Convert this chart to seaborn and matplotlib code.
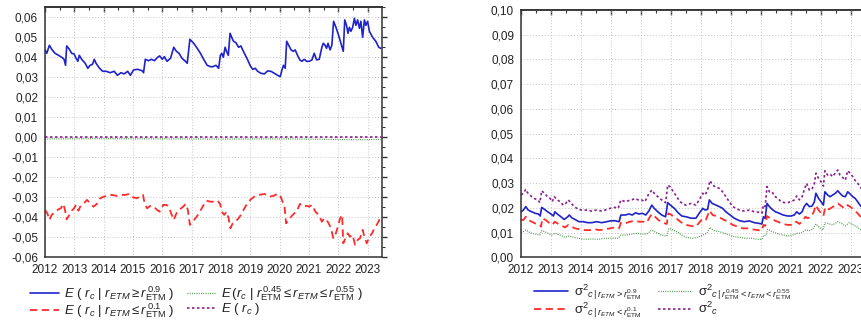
import matplotlib
matplotlib.use("Agg")
import matplotlib.pyplot as plt
import seaborn as sns
from matplotlib.ticker import MultipleLocator, FuncFormatter

# ---------------- left panel: conditional means ----------------
l_blue_t = [2012.00, 2012.06, 2012.15, 2012.23, 2012.34, 2012.46, 2012.57, 2012.65, 2012.70, 2012.74,
            2012.83, 2012.91, 2012.99, 2013.06, 2013.12, 2013.17, 2013.25, 2013.37, 2013.46, 2013.54,
            2013.62, 2013.68, 2013.74, 2013.86, 2013.97, 2014.09, 2014.22, 2014.36, 2014.47, 2014.59,
            2014.70, 2014.82, 2014.91, 2015.02, 2015.16, 2015.31, 2015.36, 2015.42, 2015.53, 2015.63,
            2015.73, 2015.84, 2015.91, 2016.00, 2016.07, 2016.16, 2016.28, 2016.39, 2016.48, 2016.57,
            2016.67, 2016.79, 2016.85, 2016.94, 2017.07, 2017.19, 2017.30, 2017.42, 2017.53, 2017.64,
            2017.72, 2017.83, 2017.92, 2017.98, 2018.03, 2018.08, 2018.14, 2018.19, 2018.25, 2018.31,
            2018.38, 2018.43, 2018.51, 2018.60, 2018.68, 2018.74, 2018.83, 2018.91, 2018.99, 2019.08,
            2019.17, 2019.25, 2019.36, 2019.48, 2019.59, 2019.70, 2019.82, 2019.93, 2020.02, 2020.08,
            2020.13, 2020.19, 2020.24, 2020.31, 2020.39, 2020.47, 2020.53, 2020.61, 2020.69, 2020.76,
            2020.84, 2020.92, 2021.01, 2021.10, 2021.18, 2021.26, 2021.35, 2021.44, 2021.49, 2021.55,
            2021.60, 2021.65, 2021.72, 2021.78, 2021.84, 2021.92, 2022.01, 2022.09, 2022.17, 2022.22,
            2022.28, 2022.33, 2022.38, 2022.43, 2022.49, 2022.55, 2022.60, 2022.66, 2022.72, 2022.77,
            2022.83, 2022.89, 2022.94, 2023.00, 2023.06, 2023.17, 2023.28, 2023.38, 2023.45]
l_blue_v = [0.0437, 0.0420, 0.0460, 0.0440, 0.0420, 0.0410, 0.0400, 0.0390, 0.0360, 0.0457,
            0.0440, 0.0420, 0.0417, 0.0395, 0.0380, 0.0410, 0.0390, 0.0370, 0.0345, 0.0360,
            0.0365, 0.0390, 0.0370, 0.0345, 0.0330, 0.0330, 0.0323, 0.0330, 0.0310, 0.0323,
            0.0317, 0.0330, 0.0310, 0.0337, 0.0340, 0.0333, 0.0323, 0.0390, 0.0383, 0.0390,
            0.0383, 0.0400, 0.0407, 0.0390, 0.0403, 0.0380, 0.0395, 0.0450, 0.0430, 0.0420,
            0.0395, 0.0380, 0.0370, 0.0490, 0.0470, 0.0445, 0.0420, 0.0387, 0.0360, 0.0353,
            0.0353, 0.0360, 0.0345, 0.0410, 0.0420, 0.0400, 0.0450, 0.0430, 0.0410, 0.0520,
            0.0495, 0.0480, 0.0473, 0.0450, 0.0457, 0.0437, 0.0410, 0.0387, 0.0360, 0.0340,
            0.0345, 0.0330, 0.0320, 0.0317, 0.0332, 0.0330, 0.0320, 0.0310, 0.0303, 0.0337,
            0.0360, 0.0345, 0.0480, 0.0460, 0.0437, 0.0430, 0.0437, 0.0410, 0.0387, 0.0380,
            0.0390, 0.0380, 0.0380, 0.0387, 0.0420, 0.0387, 0.0390, 0.0450, 0.0470, 0.0460,
            0.0445, 0.0470, 0.0437, 0.0460, 0.0580, 0.0550, 0.0510, 0.0470, 0.0430, 0.0587,
            0.0560, 0.0520, 0.0550, 0.0530, 0.0550, 0.0595, 0.0560, 0.0587, 0.0545, 0.0580,
            0.0500, 0.0587, 0.0560, 0.0580, 0.0530, 0.0500, 0.0480, 0.0450, 0.0445]

l_red_t = [2012.00, 2012.08, 2012.15, 2012.23, 2012.34, 2012.46, 2012.54, 2012.63, 2012.68, 2012.74,
           2012.83, 2012.91, 2012.99, 2013.06, 2013.14, 2013.20, 2013.31, 2013.43, 2013.54, 2013.65,
           2013.77, 2013.88, 2014.00, 2014.11, 2014.28, 2014.45, 2014.62, 2014.74, 2014.88, 2015.00,
           2015.14, 2015.25, 2015.34, 2015.40, 2015.48, 2015.59, 2015.71, 2015.82, 2015.91, 2016.03,
           2016.14, 2016.22, 2016.30, 2016.39, 2016.48, 2016.60, 2016.71, 2016.80, 2016.87, 2016.94,
           2017.05, 2017.17, 2017.28, 2017.39, 2017.51, 2017.64, 2017.77, 2017.89, 2017.97, 2018.03,
           2018.11, 2018.19, 2018.26, 2018.32, 2018.40, 2018.49, 2018.57, 2018.68, 2018.80, 2018.91,
           2019.02, 2019.17, 2019.31, 2019.48, 2019.65, 2019.78, 2019.93, 2020.01, 2020.10, 2020.16,
           2020.22, 2020.31, 2020.39, 2020.50, 2020.58, 2020.69, 2020.81, 2020.92, 2021.01, 2021.10,
           2021.22, 2021.33, 2021.44, 2021.52, 2021.60, 2021.67, 2021.75, 2021.83, 2021.90, 2021.98,
           2022.06, 2022.13, 2022.17, 2022.24, 2022.32, 2022.40, 2022.49, 2022.57, 2022.66, 2022.74,
           2022.83, 2022.89, 2022.97, 2023.06, 2023.15, 2023.23, 2023.31, 2023.40, 2023.45]
l_red_v = [-0.0363, -0.0380, -0.0413, -0.0388, -0.0372, -0.0360, -0.0355, -0.0333, -0.0363, -0.0410,
           -0.0388, -0.0367, -0.0355, -0.0338, -0.0367, -0.0347, -0.0333, -0.0313, -0.0330, -0.0347,
           -0.0333, -0.0305, -0.0297, -0.0293, -0.0288, -0.0293, -0.0288, -0.0288, -0.0283, -0.0300,
           -0.0305, -0.0293, -0.0288, -0.0333, -0.0355, -0.0343, -0.0347, -0.0363, -0.0372, -0.0338,
           -0.0338, -0.0347, -0.0380, -0.0413, -0.0380, -0.0360, -0.0347, -0.0333, -0.0363, -0.0438,
           -0.0420, -0.0397, -0.0372, -0.0343, -0.0317, -0.0322, -0.0322, -0.0317, -0.0333, -0.0372,
           -0.0388, -0.0372, -0.0405, -0.0455, -0.0430, -0.0422, -0.0410, -0.0388, -0.0355, -0.0327,
           -0.0310, -0.0293, -0.0288, -0.0283, -0.0297, -0.0293, -0.0283, -0.0288, -0.0322, -0.0338,
           -0.0430, -0.0413, -0.0397, -0.0380, -0.0372, -0.0333, -0.0347, -0.0343, -0.0347, -0.0338,
           -0.0372, -0.0388, -0.0422, -0.0405, -0.0413, -0.0430, -0.0455, -0.0505, -0.0488, -0.0450,
           -0.0405, -0.0388, -0.0530, -0.0505, -0.0480, -0.0497, -0.0488, -0.0538, -0.0513, -0.0505,
           -0.0463, -0.0497, -0.0530, -0.0497, -0.0480, -0.0455, -0.0438, -0.0413, -0.0405]

l_green_t = [2012.00, 2014.00, 2016.00, 2018.00, 2020.00, 2021.50, 2022.50, 2023.45]
l_green_v = [-0.0008, -0.0007, -0.0008, -0.0009, -0.0008, -0.0010, -0.0012, -0.0011]
l_purple_t = [2012.00, 2016.00, 2020.00, 2023.45]
l_purple_v = [0.0002, 0.0002, 0.0002, 0.0002]

# ---------------- right panel: conditional variances ----------------
r_purple_t = [2012.00, 2012.08, 2012.16, 2012.22, 2012.33, 2012.44, 2012.56, 2012.63, 2012.69, 2012.78,
              2012.86, 2012.97, 2013.04, 2013.11, 2013.19, 2013.30, 2013.41, 2013.49, 2013.58, 2013.67,
              2013.78, 2013.91, 2014.02, 2014.19, 2014.36, 2014.52, 2014.69, 2014.80, 2014.97, 2015.13,
              2015.24, 2015.33, 2015.47, 2015.58, 2015.69, 2015.80, 2015.91, 2016.02, 2016.13, 2016.24,
              2016.36, 2016.44, 2016.56, 2016.69, 2016.82, 2016.89, 2016.97, 2017.08, 2017.19, 2017.30,
              2017.41, 2017.50, 2017.67, 2017.83, 2017.94, 2018.06, 2018.14, 2018.22, 2018.30, 2018.39,
              2018.50, 2018.61, 2018.72, 2018.83, 2018.94, 2019.06, 2019.17, 2019.28, 2019.44, 2019.61,
              2019.78, 2019.94, 2020.03, 2020.08, 2020.14, 2020.20, 2020.28, 2020.37, 2020.44, 2020.56,
              2020.67, 2020.78, 2020.89, 2021.00, 2021.11, 2021.19, 2021.28, 2021.37, 2021.44, 2021.52,
              2021.61, 2021.70, 2021.78, 2021.83, 2021.92, 2022.00, 2022.08, 2022.13, 2022.22, 2022.30,
              2022.39, 2022.48, 2022.56, 2022.63, 2022.72, 2022.81, 2022.89, 2022.97, 2023.06, 2023.14,
              2023.22, 2023.30, 2023.38, 2023.45]
r_purple_v = [0.0252, 0.0259, 0.0275, 0.0261, 0.0248, 0.0238, 0.0232, 0.0221, 0.0269, 0.0259,
              0.0248, 0.0238, 0.0225, 0.0245, 0.0234, 0.0225, 0.0211, 0.0218, 0.0232, 0.0218,
              0.0205, 0.0194, 0.0191, 0.0191, 0.0187, 0.0191, 0.0187, 0.0191, 0.0198, 0.0202,
              0.0198, 0.0232, 0.0225, 0.0229, 0.0232, 0.0238, 0.0232, 0.0232, 0.0225, 0.0252,
              0.0272, 0.0259, 0.0245, 0.0232, 0.0221, 0.0292, 0.0285, 0.0265, 0.0245, 0.0225,
              0.0215, 0.0211, 0.0218, 0.0211, 0.0232, 0.0259, 0.0252, 0.0272, 0.0310, 0.0292,
              0.0283, 0.0279, 0.0265, 0.0245, 0.0225, 0.0205, 0.0198, 0.0191, 0.0187, 0.0191,
              0.0184, 0.0182, 0.0178, 0.0211, 0.0205, 0.0286, 0.0265, 0.0265, 0.0248, 0.0238,
              0.0225, 0.0221, 0.0221, 0.0225, 0.0232, 0.0248, 0.0232, 0.0245, 0.0272, 0.0299,
              0.0272, 0.0275, 0.0299, 0.0340, 0.0319, 0.0306, 0.0288, 0.0350, 0.0333, 0.0337,
              0.0326, 0.0342, 0.0353, 0.0333, 0.0323, 0.0312, 0.0350, 0.0340, 0.0326, 0.0310,
              0.0299, 0.0288, 0.0270, 0.0260]

r_blue_t = [2012.00, 2012.08, 2012.16, 2012.24, 2012.36, 2012.47, 2012.58, 2012.64, 2012.69, 2012.78,
            2012.89, 2013.00, 2013.08, 2013.13, 2013.22, 2013.33, 2013.44, 2013.56, 2013.61, 2013.69,
            2013.80, 2013.93, 2014.08, 2014.22, 2014.36, 2014.52, 2014.69, 2014.82, 2014.97, 2015.13,
            2015.27, 2015.33, 2015.47, 2015.60, 2015.71, 2015.82, 2015.93, 2016.04, 2016.16, 2016.27,
            2016.36, 2016.44, 2016.56, 2016.69, 2016.82, 2016.89, 2016.98, 2017.11, 2017.24, 2017.36,
            2017.50, 2017.67, 2017.83, 2017.94, 2018.06, 2018.14, 2018.22, 2018.28, 2018.37, 2018.50,
            2018.61, 2018.72, 2018.83, 2018.97, 2019.11, 2019.28, 2019.44, 2019.61, 2019.78, 2019.94,
            2020.03, 2020.08, 2020.14, 2020.20, 2020.28, 2020.37, 2020.48, 2020.61, 2020.74, 2020.89,
            2021.00, 2021.11, 2021.19, 2021.28, 2021.37, 2021.44, 2021.52, 2021.61, 2021.70, 2021.78,
            2021.83, 2021.92, 2022.00, 2022.08, 2022.13, 2022.22, 2022.30, 2022.39, 2022.48, 2022.56,
            2022.63, 2022.72, 2022.81, 2022.89, 2022.97, 2023.06, 2023.14, 2023.22, 2023.30, 2023.38,
            2023.45]
r_blue_v = [0.0184, 0.0191, 0.0205, 0.0191, 0.0184, 0.0178, 0.0175, 0.0167, 0.0202, 0.0194,
            0.0184, 0.0175, 0.0167, 0.0184, 0.0174, 0.0164, 0.0153, 0.0164, 0.0171, 0.0160,
            0.0153, 0.0144, 0.0144, 0.0140, 0.0140, 0.0144, 0.0140, 0.0143, 0.0147, 0.0148,
            0.0144, 0.0171, 0.0171, 0.0175, 0.0171, 0.0180, 0.0175, 0.0178, 0.0171, 0.0189,
            0.0211, 0.0198, 0.0184, 0.0171, 0.0164, 0.0221, 0.0211, 0.0198, 0.0180, 0.0167,
            0.0164, 0.0158, 0.0158, 0.0178, 0.0198, 0.0191, 0.0194, 0.0232, 0.0218, 0.0211,
            0.0205, 0.0198, 0.0184, 0.0171, 0.0158, 0.0148, 0.0144, 0.0147, 0.0140, 0.0137,
            0.0135, 0.0164, 0.0158, 0.0218, 0.0205, 0.0194, 0.0184, 0.0178, 0.0171, 0.0167,
            0.0167, 0.0171, 0.0184, 0.0175, 0.0184, 0.0205, 0.0218, 0.0205, 0.0207, 0.0225,
            0.0259, 0.0238, 0.0225, 0.0211, 0.0265, 0.0252, 0.0245, 0.0252, 0.0259, 0.0269,
            0.0259, 0.0248, 0.0245, 0.0265, 0.0256, 0.0245, 0.0238, 0.0225, 0.0211, 0.0200,
            0.0195]

r_red_t = [2012.00, 2012.08, 2012.16, 2012.24, 2012.36, 2012.47, 2012.58, 2012.67, 2012.71, 2012.82,
           2012.93, 2013.04, 2013.13, 2013.24, 2013.36, 2013.47, 2013.58, 2013.69, 2013.80, 2013.97,
           2014.13, 2014.30, 2014.47, 2014.63, 2014.80, 2014.97, 2015.13, 2015.27, 2015.33, 2015.47,
           2015.63, 2015.80, 2015.93, 2016.08, 2016.19, 2016.27, 2016.36, 2016.47, 2016.58, 2016.71,
           2016.86, 2016.91, 2017.02, 2017.13, 2017.27, 2017.41, 2017.50, 2017.67, 2017.83, 2017.94,
           2018.06, 2018.17, 2018.28, 2018.39, 2018.50, 2018.61, 2018.74, 2018.89, 2019.06, 2019.22,
           2019.39, 2019.56, 2019.72, 2019.89, 2020.03, 2020.08, 2020.14, 2020.20, 2020.30, 2020.41,
           2020.56, 2020.72, 2020.89, 2021.03, 2021.17, 2021.28, 2021.39, 2021.48, 2021.56, 2021.67,
           2021.76, 2021.83, 2021.92, 2022.00, 2022.08, 2022.14, 2022.26, 2022.37, 2022.48, 2022.56,
           2022.68, 2022.78, 2022.89, 2023.00, 2023.11, 2023.22, 2023.30, 2023.38, 2023.45]
r_red_v = [0.0150, 0.0151, 0.0164, 0.0151, 0.0144, 0.0137, 0.0135, 0.0124, 0.0158, 0.0151,
           0.0140, 0.0131, 0.0144, 0.0135, 0.0127, 0.0121, 0.0131, 0.0124, 0.0117, 0.0113,
           0.0110, 0.0110, 0.0113, 0.0110, 0.0113, 0.0117, 0.0121, 0.0117, 0.0140, 0.0137,
           0.0144, 0.0148, 0.0144, 0.0144, 0.0140, 0.0158, 0.0175, 0.0164, 0.0151, 0.0140,
           0.0135, 0.0178, 0.0171, 0.0162, 0.0148, 0.0135, 0.0131, 0.0127, 0.0124, 0.0140,
           0.0158, 0.0153, 0.0189, 0.0171, 0.0167, 0.0162, 0.0153, 0.0144, 0.0131, 0.0124,
           0.0117, 0.0117, 0.0113, 0.0110, 0.0108, 0.0131, 0.0127, 0.0167, 0.0158, 0.0151,
           0.0144, 0.0135, 0.0131, 0.0131, 0.0144, 0.0135, 0.0148, 0.0164, 0.0158, 0.0164,
           0.0184, 0.0211, 0.0191, 0.0178, 0.0167, 0.0202, 0.0194, 0.0202, 0.0211, 0.0218,
           0.0207, 0.0198, 0.0211, 0.0202, 0.0191, 0.0178, 0.0167, 0.0160, 0.0155]

r_green_t = [2012.00, 2012.08, 2012.16, 2012.30, 2012.47, 2012.63, 2012.69, 2012.86, 2013.02, 2013.13,
             2013.30, 2013.47, 2013.60, 2013.74, 2013.91, 2014.13, 2014.36, 2014.58, 2014.80, 2015.02,
             2015.24, 2015.33, 2015.52, 2015.69, 2015.86, 2016.02, 2016.19, 2016.36, 2016.52, 2016.69,
             2016.86, 2016.93, 2017.08, 2017.24, 2017.41, 2017.50, 2017.72, 2017.89, 2018.06, 2018.19,
             2018.30, 2018.44, 2018.61, 2018.78, 2018.94, 2019.11, 2019.28, 2019.44, 2019.67, 2019.89,
             2020.03, 2020.08, 2020.17, 2020.22, 2020.37, 2020.52, 2020.72, 2020.89, 2021.06, 2021.19,
             2021.33, 2021.48, 2021.61, 2021.72, 2021.83, 2021.94, 2022.06, 2022.14, 2022.28, 2022.39,
             2022.56, 2022.68, 2022.81, 2022.94, 2023.08, 2023.22, 2023.30, 2023.38, 2023.45]
r_green_v = [0.0100, 0.0104, 0.0110, 0.0100, 0.0094, 0.0090, 0.0108, 0.0100, 0.0090, 0.0097,
             0.0090, 0.0081, 0.0086, 0.0081, 0.0077, 0.0073, 0.0074, 0.0073, 0.0077, 0.0077,
             0.0077, 0.0090, 0.0090, 0.0094, 0.0097, 0.0094, 0.0094, 0.0110, 0.0100, 0.0090,
             0.0086, 0.0117, 0.0110, 0.0100, 0.0086, 0.0081, 0.0077, 0.0081, 0.0090, 0.0097,
             0.0121, 0.0108, 0.0104, 0.0097, 0.0090, 0.0083, 0.0081, 0.0077, 0.0077, 0.0073,
             0.0073, 0.0086, 0.0090, 0.0113, 0.0104, 0.0097, 0.0090, 0.0086, 0.0090, 0.0097,
             0.0097, 0.0110, 0.0108, 0.0113, 0.0135, 0.0121, 0.0110, 0.0140, 0.0135, 0.0131,
             0.0144, 0.0137, 0.0127, 0.0140, 0.0131, 0.0121, 0.0113, 0.0108, 0.0105]

left_labels = [
    r"$E\ (\ r_c\ |\ r_{ETM} \geq r^{\,0.9}_{\mathrm{ETM}}\ )$",
    r"$E\ (\ r_c\ |\ r_{ETM} \leq r^{\,0.1}_{\mathrm{ETM}}\ )$",
    r"$E\,(r_c\ |\ r^{\,0.45}_{\mathrm{ETM}} \leq r_{ETM} \leq r^{\,0.55}_{\mathrm{ETM}}\ )$",
    r"$E\ (\ r_c\ )$",
]
right_labels = [
    r"$\mathrm{σ}^2{}_{c\,|\,r_{ETM}>r^{0.9}_{\mathrm{ETM}}}$",
    r"$\mathrm{σ}^2{}_{c\,|\,r_{ETM}<r^{0.1}_{\mathrm{ETM}}}$",
    r"$\mathrm{σ}^2{}_{c\,|\,r^{0.45}_{\mathrm{ETM}}<r_{ETM}<r^{0.55}_{\mathrm{ETM}}}$",
    r"$\mathrm{σ}^2{}_c$",
]

BLUE = "#1f23c8"
RED = "#ff2b2b"
GREEN = "#4f9f4f"
PURPLE = "#8a1f8f"
TXT = "#222222"

sns.set_theme(style="white")
plt.rcParams["font.family"] = ["Liberation Sans", "DejaVu Sans"]
plt.rcParams["mathtext.fontset"] = "custom"
plt.rcParams["mathtext.rm"] = "Liberation Sans"
plt.rcParams["mathtext.it"] = "Liberation Sans:italic"
plt.rcParams["mathtext.bf"] = "Liberation Sans:bold"

fig = plt.figure(figsize=(8.61, 3.35), dpi=100)
ax_l = fig.add_axes([45 / 861, 1 - 257.3 / 335, 336.7 / 861, 250 / 335])
ax_r = fig.add_axes([521 / 861, 1 - 257.3 / 335, 344.4 / 861, 247.3 / 335])


def comma(v, pos):
    return f"{v:.2f}".replace(".", ",")


def style_axes(ax, ylo, yhi):
    ax.set_xlim(2012, 2023.48)
    ax.set_ylim(ylo, yhi)
    ax.xaxis.set_major_locator(MultipleLocator(1))
    ax.xaxis.set_minor_locator(MultipleLocator(0.5))
    ax.yaxis.set_major_locator(MultipleLocator(0.01))
    ax.yaxis.set_minor_locator(MultipleLocator(0.005))
    ax.yaxis.set_major_formatter(FuncFormatter(comma))
    ax.xaxis.set_major_formatter(FuncFormatter(lambda v, p: f"{int(round(v))}"))
    ax.grid(True, which="major", color="#c4c4c4", lw=0.7, linestyle=(0, (1, 2)))
    ax.set_axisbelow(True)
    for s in ax.spines.values():
        s.set_color("#333333")
        s.set_linewidth(1.1)
    ax.tick_params(axis="both", which="major", direction="out", length=3.5, width=1,
                   color="#333333", labelsize=8.5, labelcolor=TXT, pad=1.5)
    ax.tick_params(axis="both", which="minor", direction="out", length=2, width=0.8,
                   color="#333333")
    ax.tick_params(axis="y", which="both", right=True)
    top = ax.secondary_xaxis("top")
    top.xaxis.set_major_locator(MultipleLocator(1))
    top.xaxis.set_minor_locator(MultipleLocator(0.5))
    top.tick_params(which="major", direction="in", length=3.5, width=1, color="#333333",
                    labeltop=False)
    top.tick_params(which="minor", direction="in", length=2, width=0.8, color="#333333")
    top.spines["top"].set_color("#333333")
    ax.set_xlabel("")
    ax.set_ylabel("")


# left panel lines
sns.lineplot(x=l_blue_t, y=l_blue_v, ax=ax_l, color=BLUE, lw=1.2, label=left_labels[0])
sns.lineplot(x=l_red_t, y=l_red_v, ax=ax_l, color=RED, lw=1.3,
             linestyle=(0, (4, 2.5)), label=left_labels[1])
sns.lineplot(x=l_green_t, y=l_green_v, ax=ax_l, color=GREEN, lw=0.9,
             linestyle=(0, (0.8, 1.0)), label=left_labels[2])
sns.lineplot(x=l_purple_t, y=l_purple_v, ax=ax_l, color=PURPLE, lw=1.2,
             linestyle=(0, (1.5, 1.5)), label=left_labels[3])
style_axes(ax_l, -0.06, 0.065)

# right panel lines
sns.lineplot(x=r_blue_t, y=r_blue_v, ax=ax_r, color=BLUE, lw=1.2, label=right_labels[0])
sns.lineplot(x=r_red_t, y=r_red_v, ax=ax_r, color=RED, lw=1.3,
             linestyle=(0, (4, 2.5)), label=right_labels[1])
sns.lineplot(x=r_green_t, y=r_green_v, ax=ax_r, color=GREEN, lw=0.9,
             linestyle=(0, (0.8, 1.0)), label=right_labels[2])
sns.lineplot(x=r_purple_t, y=r_purple_v, ax=ax_r, color=PURPLE, lw=1.2,
             linestyle=(0, (1.5, 1.5)), label=right_labels[3])
style_axes(ax_r, 0.0, 0.10)

legend_opts = [
    (ax_l, 30 / 861, 284, 9.5, 2.2, 0.9, -0.1),
    (ax_r, 534 / 861, 282, 9.5, 2.6, 1.3, -0.12),
]
for ax, x0, ytop, fs, hl, cs, ls in legend_opts:
    h, lab = ax.get_legend_handles_labels()
    if ax.get_legend() is not None:
        ax.get_legend().remove()
    fig.legend(h, lab, loc="upper left", bbox_to_anchor=(x0, 1 - ytop / 335), ncol=2,
               frameon=False, fontsize=fs, handlelength=hl, handletextpad=0.4,
               columnspacing=cs, labelspacing=ls, borderaxespad=0, borderpad=0,
               labelcolor=TXT)

fig.savefig("out.png", dpi=100)
